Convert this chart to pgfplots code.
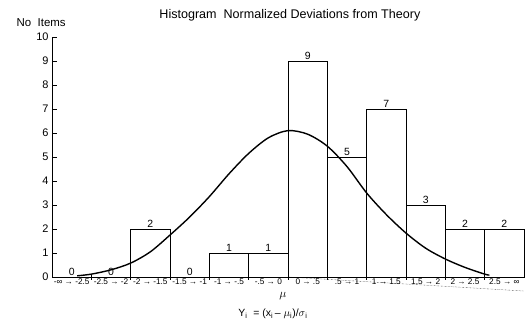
\documentclass[border=0pt]{standalone}
\usepackage{fontspec}
\setmainfont{Liberation Sans}
\usepackage{pgfplots}
\pgfplotsset{compat=1.18}
\begin{document}
\begin{tikzpicture}
\begin{axis}[
  scale only axis, width=472bp, height=240bp,
  xmin=-3, xmax=3, ymin=0, ymax=10,
  axis lines*=left,
  axis line style={line width=0.6pt},
  clip=false,
  xtick={-2.5,-2,...,2.5}, xticklabels={},
  xtick align=center,
  ytick align=inside,
  major tick length=5bp,
  tick style={line width=0.6pt, black},
  extra x ticks={-2.75,-2.25,-1.75,-1.25,-0.75,-0.25,0.25,0.75,1.25,1.75,2.25,2.75},
  extra x tick labels={-∞ → -2.5,-2.5 → -2,-2 → -1.5,-1.5 → -1,-1 → -.5,-.5 → 0,0 → .5,.5 → 1,1 → 1.5,1.5 → 2,2 → 2.5,2.5 → ∞},
  extra x tick style={major tick length=0pt, tick label style={font=\fontsize{8.3}{9}\selectfont, inner sep=1.5bp}},
  ytick={0,...,10},
  yticklabel style={font=\fontsize{11}{12}\selectfont},
  /pgf/number format/assume math mode=true,
]
\addplot[ybar interval, draw=black, fill=none, line width=0.6pt] coordinates {
  (-3,0) (-2.5,0) (-2,2) (-1.5,0) (-1,1) (-0.5,1) (0,9) (0.5,5) (1,7) (1.5,3) (2,2) (2.5,2) (3,2)};
\addplot[draw=none, mark=none, nodes near coords, point meta=explicit symbolic,
  nodes near coords style={anchor=south, font=\fontsize{10.5}{11}\selectfont, inner sep=1.5bp}]
  coordinates {(-2.75,0)[0] (-2.25,0)[0] (-1.75,2)[2] (-1.25,0)[0] (-0.75,1)[1] (-0.25,1)[1]
  (0.25,9)[9] (0.75,5)[5] (1.25,7)[7] (1.75,3)[3] (2.25,2)[2] (2.75,2)[2]};
\addplot[smooth, line width=1.4pt, black] coordinates {
  (-2.68,0.05) (-2.5,0.12) (-2.25,0.3) (-2,0.58) (-1.75,1.05) (-1.5,1.75) (-1.25,2.5)
  (-1,3.35) (-0.75,4.3) (-0.5,5.15) (-0.25,5.8) (0,6.1) (0.25,5.95) (0.5,5.45)
  (0.75,4.6) (1,3.5) (1.25,2.6) (1.5,1.83) (1.75,1.2) (2,0.75) (2.25,0.4) (2.5,0.12) (2.56,0.08)};
\draw[densely dotted, line width=0.4pt] (axis cs:0,0) -- ++(0,-14bp);
\node[font=\fontsize{12.6}{13}\selectfont] at (rel axis cs:0.504,1.0917) {Histogram\ \ Normalized Deviations from Theory};
\node[font=\fontsize{11.5}{12}\selectfont] at (rel axis cs:-0.023,1.058) {No\ \ Items};
\node[font=\fontsize{12}{12}\selectfont] at (rel axis cs:0.489,-0.079) {$\mu$};
\node[font=\fontsize{10.5}{11}\selectfont] at (rel axis cs:0.468,-0.154) {Y\textsubscript{i}\ \ = (x\textsubscript{i}\,– $\mu$\textsubscript{i})/$\sigma$\textsubscript{i}};
\coordinate (bl) at (rel axis cs:-0.1102,-0.2042);
\coordinate (tr) at (rel axis cs:1.0127,1.1542);
\end{axis}
\pgfresetboundingbox
\path[use as bounding box] (bl) rectangle (tr);
\end{tikzpicture}
\end{document}
